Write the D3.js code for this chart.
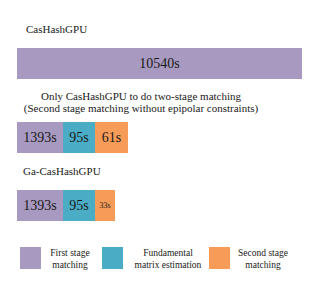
<!DOCTYPE html>
<html>
<head>
<meta charset="utf-8">
<script src="https://cdn.jsdelivr.net/npm/d3@7"></script>
<style>
	body { margin: 0; background: #fff; }
</style>
</head>
<body>
<div class="c-svg"></div>
<script>
//DATA
//-------------------------------------------------------------------------

const stages = ["First stage matching", "Fundamental matrix estimation", "Second stage matching"];
const legendLines = [["First stage", "matching"], ["Fundamental", "matrix estimation"], ["Second stage", "matching"]];
const groupTitles = [
	["CasHashGPU"],
	["Only CasHashGPU to do two-stage matching", "(Second stage matching without epipolar constraints)"],
	["Ga-CasHashGPU"]
];
const casHashTimes = [10540];
const onlyCasHashTimes = [1393, 95, 61];
const gaCasHashTimes = [1393, 95, 33];

//OPTS
//-------------------------------------------------------------------------

const opts = {
	width: 316,
	height: 285,
	left: 17,
	barHeight: 31,
	font: "'Liberation Serif', 'Times New Roman', serif",
	textColor: "#1a1a1a"
};

const colors = ["#a899c0", "#4badc5", "#f79c58"];

const svg = d3.select(".c-svg")
	.append("svg")
	.attr("width", opts.width)
	.attr("height", opts.height)
	.attr("font-family", opts.font)
	.attr("fill", opts.textColor);

//schematic width scale (figure is not drawn to value proportion)
const w = d3.scaleLinear()
	.domain([0, 33, 61, 95, 1393, 10540])
	.range([0, 20, 33, 32, 46, 285]);

const z = d3.scaleOrdinal().domain(stages).range(colors);

//GROUPS
//-------------------------------------------------------------------------

const groups = [
	{ times: casHashTimes, titleY: [33], titleX: 26, anchor: "start", barY: 48, fonts: [14] },
	{ times: onlyCasHashTimes, titleY: [100, 112], titleX: 141, anchor: "middle", barY: 122, fonts: [14, 14, 14] },
	{ times: gaCasHashTimes, titleY: [175], titleX: 23, anchor: "start", barY: 190, fonts: [14, 14, 8] }
];

groups.forEach((grp, gi) => {
	const g = svg.append("g").attr("class", "group");

	g.selectAll(".title")
		.data(groupTitles[gi])
		.join("text")
		.attr("class", "title")
		.attr("x", grp.titleX)
		.attr("y", (d, i) => grp.titleY[i])
		.attr("text-anchor", grp.anchor)
		.attr("font-size", 11)
		.attr("fill", opts.textColor)
		.text(d => d);

	let acc = opts.left;
	const segs = grp.times.map((t, i) => {
		const s = { t: t, i: i, x: acc, w: w(t) };
		acc += s.w;
		return s;
	});

	g.selectAll("rect")
		.data(segs)
		.join("rect")
		.attr("x", d => d.x)
		.attr("y", grp.barY)
		.attr("width", d => d.w)
		.attr("height", opts.barHeight)
		.attr("fill", d => z(stages[d.i]));

	g.selectAll(".val")
		.data(segs)
		.join("text")
		.attr("class", "val")
		.attr("x", d => d.x + d.w / 2)
		.attr("y", grp.barY + opts.barHeight / 2)
		.attr("dy", "0.35em")
		.attr("text-anchor", "middle")
		.attr("font-size", d => grp.fonts[d.i])
		.attr("fill", opts.textColor)
		.text(d => d.t + "s");
});

//LEGEND
//-------------------------------------------------------------------------

const legendX = [20, 102, 209];
const legendTextX = [70, 168, 263];

const legend = svg.append("g").attr("class", "legend");

legend.selectAll("rect")
	.data(stages)
	.join("rect")
	.attr("x", (d, i) => legendX[i])
	.attr("y", 247)
	.attr("width", 21)
	.attr("height", 22)
	.attr("fill", d => z(d));

legend.selectAll("text")
	.data(legendLines)
	.join("text")
	.attr("text-anchor", "middle")
	.attr("font-size", 9.5)
	.attr("fill", opts.textColor)
	.each(function(lines, i) {
		d3.select(this).selectAll("tspan")
			.data(lines)
			.join("tspan")
			.attr("x", legendTextX[i])
			.attr("y", (d, j) => 256 + j * 11.5)
			.text(d => d);
	});
</script>
</body>
</html>
